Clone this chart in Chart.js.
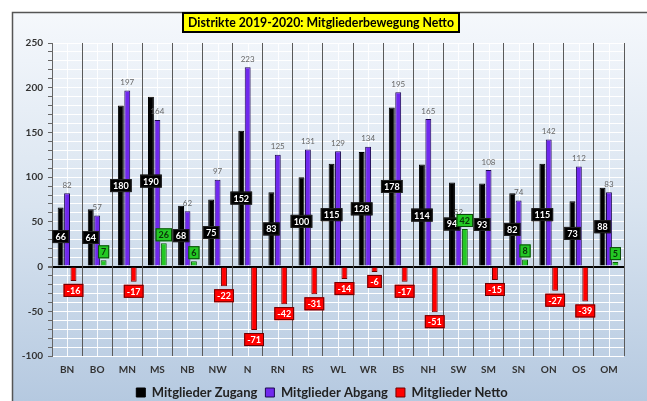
<!DOCTYPE html>
<html>
<head>
<meta charset="utf-8">
<script src="https://cdn.jsdelivr.net/npm/chart.js@4/dist/chart.umd.min.js"></script>
<style>
  html, body { margin: 0; padding: 0; background: #fff; }
  #wrap { width: 647px; height: 401px; }
</style>
</head>
<body>
<div id="wrap"><canvas id="chart" width="647" height="401"></canvas></div>
<script>
// Daten
const titel = 'Distrikte 2019-2020: Mitgliederbewegung Netto';
const distrikte = ['BN', 'BO', 'MN', 'MS', 'NB', 'NW', 'N', 'RN', 'RS', 'WL', 'WR', 'BS', 'NH', 'SW', 'SM', 'SN', 'ON', 'OS', 'OM'];
const zugang = [66, 64, 180, 190, 68, 75, 152, 83, 100, 115, 128, 178, 114, 94, 93, 82, 115, 73, 88];
const abgang = [82, 57, 197, 164, 62, 97, 223, 125, 131, 129, 134, 195, 165, 52, 108, 74, 142, 112, 83];
const netto = [-16, 7, -17, 26, 6, -22, -71, -42, -31, -14, -6, -17, -51, 42, -15, 8, -27, -39, 5];
const serien = ['Mitglieder Zugang', 'Mitglieder Abgang', 'Mitglieder Netto'];
const yMin = -100, yMax = 250, yStep = 10, yLabelStep = 50;

const FONT = 'Lato, "Open Sans", sans-serif';
const LILA = '#7028ee';

// kleines Kästchen mit Zahl
function box(ctx, text, x, y, fill, stroke, color) {
  ctx.font = 'bold 9px ' + FONT;
  const w = Math.max(10, ctx.measureText(text).width + 6);
  const h = 13;
  ctx.fillStyle = fill;
  ctx.fillRect(x - w / 2, y - h / 2, w, h);
  ctx.strokeStyle = stroke;
  ctx.lineWidth = 1;
  ctx.strokeRect(x - w / 2 + 0.5, y - h / 2 + 0.5, w - 1, h - 1);
  ctx.fillStyle = color;
  ctx.textAlign = 'center';
  ctx.textBaseline = 'middle';
  ctx.fillText(text, x, y + 0.5);
}

// Hintergrund, Rahmen und Titel
const hintergrund = {
  id: 'hintergrund',
  beforeDraw(chart) {
    const ctx = chart.ctx;
    ctx.save();
    ctx.fillStyle = '#fff';
    ctx.fillRect(0, 0, chart.width, chart.height);
    const g = ctx.createLinearGradient(0, 12, 0, chart.height);
    g.addColorStop(0, '#f5f8fc');
    g.addColorStop(0.5, '#d9e4f0');
    g.addColorStop(1, '#b5c9e0');
    ctx.fillStyle = g;
    ctx.fillRect(12, 12, chart.width - 12, chart.height - 12);
    ctx.strokeStyle = '#555';
    ctx.lineWidth = 1.5;
    ctx.beginPath();
    ctx.moveTo(12.5, chart.height);
    ctx.lineTo(12.5, 12.5);
    ctx.lineTo(chart.width, 12.5);
    ctx.stroke();
    // helle Linien in der Mitte jeder Kategorie
    const x = chart.scales.x, a = chart.chartArea;
    ctx.strokeStyle = 'rgba(255,255,255,0.9)';
    ctx.lineWidth = 1;
    distrikte.forEach((d, i) => {
      const px = Math.round(x.getPixelForValue(i)) + 0.5;
      ctx.beginPath();
      ctx.moveTo(px, a.top);
      ctx.lineTo(px, a.bottom);
      ctx.stroke();
    });
    ctx.restore();
  },
  afterDraw(chart) {
    const ctx = chart.ctx;
    ctx.save();
    ctx.font = 'bold 13px ' + FONT;
    const f = 13 * 266 / ctx.measureText(titel).width;
    ctx.font = 'bold ' + f.toFixed(2) + 'px ' + FONT;
    const cx = 321, cy = 22.5, w = 276, h = 19;
    ctx.fillStyle = '#ffff00';
    ctx.fillRect(cx - w / 2, cy - h / 2, w, h);
    ctx.strokeStyle = '#000';
    ctx.lineWidth = 2;
    ctx.strokeRect(cx - w / 2, cy - h / 2, w, h);
    ctx.fillStyle = '#000';
    ctx.textAlign = 'center';
    ctx.textBaseline = 'middle';
    ctx.fillText(titel, cx, cy + 1);
    ctx.restore();
  }
};

// Zahlen an den Balken
const beschriftung = {
  id: 'beschriftung',
  afterDatasetsDraw(chart) {
    const ctx = chart.ctx;
    ctx.save();
    ctx.textAlign = 'center';
    ctx.textBaseline = 'middle';
    // Abgang: graue Zahl über dem Balken
    ctx.font = '8px ' + FONT;
    ctx.fillStyle = '#666';
    chart.getDatasetMeta(1).data.forEach((bar, i) => {
      ctx.fillText(abgang[i], bar.x, bar.y - 8);
    });
    // Zugang: weiss auf schwarz, Mitte des Balkens
    chart.getDatasetMeta(0).data.forEach((bar, i) => {
      box(ctx, String(zugang[i]), bar.x, (bar.y + bar.base) / 2, '#000', '#222', '#fff');
    });
    // Netto: rot unten, grün oben
    chart.getDatasetMeta(2).data.forEach((bar, i) => {
      const v = netto[i];
      if (v < 0) box(ctx, String(v), bar.x, bar.y + 9.5, '#ff0000', '#6a0000', '#fff');
      else box(ctx, String(v), bar.x, bar.y - 8.5, '#24c824', '#0a4a0a', '#0a330a');
    });
    ctx.restore();
  }
};

const nettoFarbe = netto.map(v => v < 0 ? '#ff0000' : '#24c824');
const nettoRand = netto.map(v => v < 0 ? '#700000' : '#0a5a0a');

new Chart(document.getElementById('chart'), {
  type: 'bar',
  data: {
    labels: distrikte,
    datasets: [
      { label: serien[0], data: zugang, backgroundColor: '#000', borderColor: '#000', borderWidth: 1 },
      { label: serien[1], data: abgang, backgroundColor: LILA, borderColor: '#1c0850', borderWidth: 1 },
      { label: serien[2], data: netto, backgroundColor: nettoFarbe, borderColor: nettoRand, borderWidth: 1 }
    ]
  },
  options: {
    responsive: false,
    animation: false,
    layout: { padding: { top: 43, right: 23, left: 20, bottom: -8 } },
    datasets: { bar: { categoryPercentage: 0.64, barPercentage: 0.92 } },
    scales: {
      x: {
        afterFit(scale) { scale.height = 22; },
        grid: { offset: true, color: '#5a5a5a', lineWidth: 1, drawTicks: false },
        border: { display: false },
        ticks: { color: '#333', padding: 8, font: { family: FONT, size: 10, weight: 'bold' } }
      },
      y: {
        min: yMin,
        max: yMax,
        afterFit(scale) { scale.width = 32; },
        grid: {
          z: -2,
          color: ctx => ctx.tick && ctx.tick.value === 0 ? '#000' : '#ffffff',
          lineWidth: ctx => ctx.tick && ctx.tick.value === 0 ? 2 : 1,
          tickColor: '#666',
          tickLength: 4
        },
        border: { color: '#666', width: 1 },
        ticks: {
          stepSize: yStep,
          autoSkip: false,
          padding: 5,
          color: '#333',
          font: { family: FONT, size: 10, weight: 'bold' },
          callback: v => v % yLabelStep === 0 ? v : ''
        }
      }
    },
    plugins: {
      legend: {
        position: 'bottom',
        labels: {
          boxWidth: 9,
          boxHeight: 9,
          padding: 8,
          color: '#222',
          font: { family: FONT, size: 13, weight: 'bold' },
          generateLabels: () => [
            { text: serien[0], fillStyle: '#000', strokeStyle: '#000', lineWidth: 1, datasetIndex: 0, fontColor: '#222' },
            { text: serien[1], fillStyle: LILA, strokeStyle: '#1c0850', lineWidth: 1, datasetIndex: 1, fontColor: '#222' },
            { text: serien[2], fillStyle: '#ff0000', strokeStyle: '#700000', lineWidth: 1, datasetIndex: 2, fontColor: '#222' }
          ]
        }
      },
      tooltip: { enabled: false }
    }
  },
  plugins: [hintergrund, beschriftung]
});
</script>
</body>
</html>
